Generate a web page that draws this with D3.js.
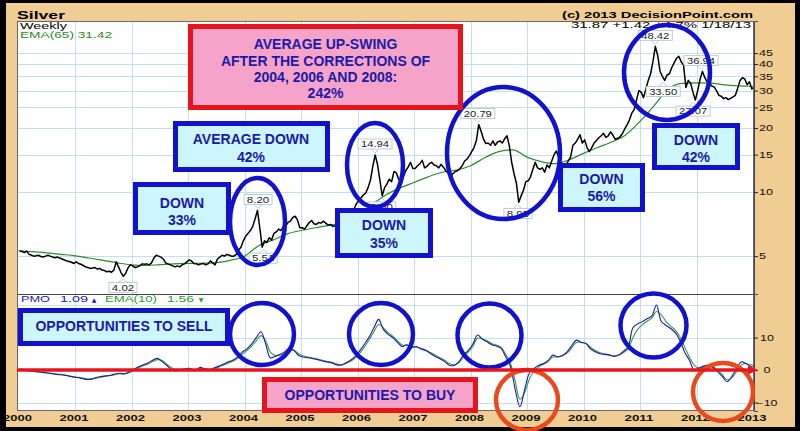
<!DOCTYPE html>
<html><head><meta charset="utf-8">
<script src="https://cdn.jsdelivr.net/npm/d3@7"></script>
<style>body{margin:0;background:#000}svg{display:block}</style>
</head><body>
<svg id="c" width="800" height="431"></svg>
<script>
// ---------- DATA ----------
const yearTicks = [2000,2001,2002,2003,2004,2005,2006,2007,2008,2009,2010,2011,2012,2013];
const priceTicks = [5,10,15,20,25,30,35,40,45];
const pmoTicks = [10,0,-10];
// semi-monthly silver closes, 24 per year
const p2000 = [5.30,5.25,5.20,5.28,5.10,5.05,5.00,5.02,5.05,4.98,4.95,5.00,5.05,5.00,4.95,4.92,4.95,4.90,4.85,4.80,4.75,4.72,4.68,4.62];
const p2001 = [4.70,4.62,4.58,4.52,4.45,4.42,4.38,4.40,4.42,4.35,4.38,4.30,4.28,4.22,4.25,4.20,4.30,4.70,4.45,4.20,4.02,4.15,4.40,4.55];
const p2002 = [4.50,4.42,4.45,4.50,4.60,4.58,4.60,4.55,4.65,4.90,5.05,5.00,4.95,4.85,4.65,4.60,4.55,4.50,4.45,4.50,4.45,4.55,4.60,4.70];
const p2003 = [4.80,4.75,4.62,4.60,4.55,4.60,4.62,4.55,4.60,4.75,4.65,4.55,4.85,4.95,5.05,5.00,5.10,5.05,5.00,5.00,5.10,5.35,5.50,5.90];
const p2004 = [6.20,6.40,6.60,6.90,7.50,8.20,6.80,5.51,5.90,5.80,6.10,5.95,6.40,6.50,6.70,6.60,6.90,6.95,7.20,7.30,7.60,7.70,7.40,6.80];
const p2005 = [6.80,6.70,6.95,7.20,7.35,7.10,7.05,7.20,7.15,7.30,7.15,7.00,7.05,6.90,6.95,7.10,7.00,7.15,7.40,7.60,7.80,7.90,8.30,8.80];
const p2006 = [9.10,9.40,9.70,9.90,10.50,11.40,13.20,14.94,13.50,11.40,9.60,10.50,10.90,11.50,11.20,12.50,12.30,11.50,11.00,11.80,12.60,13.10,13.80,12.90];
const p2007 = [12.90,13.30,13.60,14.10,13.00,13.20,13.60,13.80,13.40,13.30,13.00,13.50,13.10,12.60,12.30,11.70,12.20,12.50,12.60,12.90,13.30,14.00,14.30,14.80];
const p2008 = [15.50,16.20,17.50,20.79,19.30,17.80,16.90,17.00,16.60,17.40,16.60,17.20,17.40,17.00,17.80,18.40,16.50,13.80,12.20,11.00,8.95,9.60,10.20,11.20];
const p2009 = [11.30,11.80,12.80,13.80,13.00,12.80,13.00,12.40,13.40,13.00,14.00,15.00,15.60,14.50,13.80,13.30,13.40,14.00,14.60,16.60,17.00,17.70,18.60,17.00];
const p2010 = [17.60,16.20,15.50,16.20,17.00,17.50,18.00,18.40,18.90,18.10,18.40,19.20,18.50,17.70,17.90,18.20,18.80,19.80,20.70,21.80,23.50,24.40,27.00,30.00];
const p2011 = [29.50,27.80,30.50,33.50,36.00,41.00,48.42,44.00,37.00,35.00,33.50,35.50,36.00,38.50,40.50,42.50,43.50,41.00,39.50,31.00,33.50,32.50,29.50,27.07];
const p2012 = [30.00,33.80,36.94,34.60,33.00,32.50,31.50,31.20,30.00,28.50,28.20,27.50,27.80,27.20,27.60,28.00,28.50,30.80,33.50,34.50,34.00,32.00,33.00,30.50];
const p2013 = [31.87];
// EMA(65) quarterly readings (2000.00 .. 2012.75, then 1/18/13)
const ema65 = [5.30,5.25,5.18,5.10, 5.02,4.90,4.78,4.65, 4.55,4.52,4.56,4.60, 4.62,4.63,4.66,4.78,
  5.00,5.60,5.95,6.35, 6.60,6.80,6.98,7.15, 7.60,8.70,9.70,10.45, 11.10,11.80,12.40,12.70,
  13.30,14.50,15.50,15.80, 14.60,13.90,13.60,14.20, 15.20,16.20,17.20,18.60, 21.50,25.50,30.50,32.40,
  32.60,32.50,31.90,31.60, 31.42];
// PMO monthly readings 2000..2012 + last
const pmo = [
 0.3,0.0,-0.3,-0.5,-0.6,-0.8,-1.0,-1.2,-1.4,-1.5,-1.8,-2.1,
 -2.3,-2.6,-2.9,-2.8,-2.3,-2.0,-1.8,-1.6,-1.2,-1.0,-1.2,-0.6,
 0.2,1.0,1.6,2.2,3.0,3.6,2.6,1.4,0.2,-0.3,0.1,0.4,
 0.5,-0.3,0.8,0.4,0.0,0.6,1.2,1.8,2.5,3.0,4.0,5.5,
 6.5,8.0,10.0,11.8,8.0,3.8,4.2,4.8,5.6,6.7,6.0,4.5,
 4.0,3.8,3.5,3.2,2.8,2.5,2.2,1.6,1.5,2.2,3.0,4.2,
 6.0,8.0,10.2,13.0,15.6,12.5,11.0,10.0,8.5,7.2,7.8,7.0,
 7.2,6.5,6.0,5.1,4.2,3.5,2.6,1.5,1.4,2.5,4.6,6.0,
 8.0,10.8,9.5,8.7,7.8,7.4,6.7,4.0,1.0,-6.0,-11.3,-6.0,
 -1.0,0.5,1.5,2.0,3.0,4.6,4.0,4.5,5.6,7.5,9.2,8.5,
 8.2,6.5,5.6,5.0,4.8,4.6,4.2,4.6,5.8,7.2,13.0,14.2,
 14.9,15.8,16.6,20.0,15.0,13.8,12.8,11.5,9.0,5.5,3.0,0.0,
 0.6,1.2,1.5,0.8,-0.5,-2.0,-3.6,-2.0,0.5,2.5,2.0,1.1,
 1.09];
const pmoEma = [
 0.2,0.1,-0.2,-0.4,-0.6,-0.7,-0.9,-1.1,-1.3,-1.4,-1.7,-2.0,
 -2.2,-2.4,-2.7,-2.8,-2.5,-2.2,-1.9,-1.7,-1.4,-1.1,-1.1,-0.8,
 -0.1,0.7,1.3,1.9,2.6,3.2,2.9,1.8,0.7,0.0,0.0,0.3,
 0.4,0.0,0.5,0.5,0.2,0.4,0.9,1.5,2.1,2.7,3.6,4.8,
 6.0,7.3,9.0,10.6,9.0,5.5,4.5,4.6,5.2,6.2,6.1,5.0,
 4.3,4.0,3.7,3.4,3.0,2.7,2.4,1.9,1.6,2.0,2.7,3.7,
 5.2,7.2,9.3,11.8,14.0,13.0,11.5,10.4,9.0,7.7,7.6,7.2,
 7.1,6.7,6.2,5.4,4.6,3.8,3.0,2.0,1.6,2.2,4.0,5.5,
 7.3,9.8,9.6,9.0,8.2,7.7,7.0,4.8,2.0,-3.5,-9.0,-7.0,
 -2.8,-0.3,1.0,1.8,2.6,4.0,4.1,4.4,5.2,6.8,8.5,8.5,
 8.2,7.0,6.0,5.3,5.0,4.7,4.4,4.6,5.4,6.5,10.0,12.5,
 14.0,15.0,16.0,18.0,17.0,15.0,13.5,12.3,10.2,7.0,4.0,1.5,
 0.6,0.9,1.3,1.0,0.0,-1.5,-3.0,-2.4,-0.5,1.5,2.0,1.6,
 1.56];
// labelled turning points
const markValues = [4.02, 8.20, 5.51, 14.94, 9.60, 20.79, 8.95, 48.42, 33.50, 36.94, 27.07];
const markDates  = [2001.85, 2004.24, 2004.33, 2006.31, 2006.43, 2008.13, 2008.84, 2011.27, 2011.41, 2012.08, 2011.94];
const markAbove  = [false, true, false, true, false, true, false, true, false, true, false];

// ---------- BUILD SERIES ----------
const priceYears = [p2000,p2001,p2002,p2003,p2004,p2005,p2006,p2007,p2008,p2009,p2010,p2011,p2012];
const price = [];
priceYears.forEach((arr, yi) => arr.forEach((v, i) => price.push({d: 2000 + yi + (i + 0.5) / 24, v})));
price.push({d: 2013.05, v: p2013[0]});
const emaSeries = ema65.map((v, i) => ({d: i < 52 ? 2000 + i * 0.25 : 2013.05, v}));
const monthly = arr => arr.map((v, i) => ({d: i < 156 ? 2000 + (i + 0.5) / 12 : 2013.05, v}));
const pmoSeries = monthly(pmo), pmoEmaSeries = monthly(pmoEma);

// ---------- LAYOUT ----------
const L = 17, R = 754, T1 = 21, B1 = 294, B2 = 411;
const svg = d3.select('#c');
const FF = '"Liberation Sans", Arial, Helvetica, sans-serif';
function txt(g, x, y, s, o) {
  const t = g.append('text').attr('x', x).attr('y', y).text(s)
    .attr('font-family', o.ff || FF).attr('font-size', o.size)
    .attr('font-weight', o.bold ? 'bold' : 'normal').attr('fill', o.fill || '#000')
    .attr('text-anchor', o.anchor || 'start');
  if (o.len) t.attr('textLength', o.len).attr('lengthAdjust', 'spacingAndGlyphs');
  return t;
}

svg.append('rect').attr('width', 800).attr('height', 431).attr('fill', '#000');
svg.append('rect').attr('x', 6).attr('y', 3).attr('width', 789).attr('height', 424).attr('fill', '#efcd93');
svg.append('rect').attr('x', L).attr('y', T1).attr('width', R - L).attr('height', B2 - T1).attr('fill', '#fff');

const x = d3.scaleLinear().domain([2000, 2013]).range([18.5, 753]);
const y = d3.scaleLog().domain([3.32, 63.7]).range([B1, T1]);
const yp = d3.scaleLinear().domain([-12.6, 23.4]).range([B2, B1]);

const grid = svg.append('g').attr('stroke', '#c2e0ef').attr('stroke-width', 1);
yearTicks.slice(1, -1).forEach(yr => grid.append('line').attr('x1', Math.round(x(yr)) + 0.5).attr('x2', Math.round(x(yr)) + 0.5).attr('y1', T1).attr('y2', B2));
priceTicks.forEach(v => grid.append('line').attr('x1', L).attr('x2', R).attr('y1', Math.round(y(v)) + 0.5).attr('y2', Math.round(y(v)) + 0.5));
[20, 10, 0, -10].forEach(v => grid.append('line').attr('x1', L).attr('x2', R).attr('y1', Math.round(yp(v)) + 0.5).attr('y2', Math.round(yp(v)) + 0.5));

// clip paths
svg.append('clipPath').attr('id', 'c1').append('rect').attr('x', L).attr('y', T1).attr('width', R - L).attr('height', B1 - T1);
svg.append('clipPath').attr('id', 'c2').append('rect').attr('x', L).attr('y', B1).attr('width', R - L).attr('height', B2 - B1);

// price panel
const lp = d3.line().x(d => x(d.d)).y(d => y(d.v));
const g1 = svg.append('g').attr('clip-path', 'url(#c1)');
g1.append('path').datum(emaSeries).attr('d', lp.curve(d3.curveMonotoneX)).attr('fill', 'none').attr('stroke', '#2f8a2f').attr('stroke-width', 1.2);
g1.append('path').datum(price).attr('d', d3.line().x(d => x(d.d)).y(d => y(d.v))).attr('fill', 'none').attr('stroke', '#000').attr('stroke-width', 1.5).attr('stroke-linejoin', 'round');

// pmo panel
const lq = d3.line().x(d => x(d.d)).y(d => yp(d.v)).curve(d3.curveCatmullRom);
const g2 = svg.append('g').attr('clip-path', 'url(#c2)');
g2.append('path').datum(pmoEmaSeries).attr('d', lq).attr('fill', 'none').attr('stroke', '#3c9c3c').attr('stroke-width', 1.1);
g2.append('path').datum(pmoSeries).attr('d', lq).attr('fill', 'none').attr('stroke', '#1c1caa').attr('stroke-width', 1.1);

// frames
svg.append('rect').attr('x', L + 0.5).attr('y', T1 + 0.5).attr('width', R - L - 1).attr('height', B2 - T1 - 1).attr('fill', 'none').attr('stroke', '#667').attr('stroke-width', 1);
svg.append('line').attr('x1', L).attr('x2', R).attr('y1', B1 + 0.5).attr('y2', B1 + 0.5).attr('stroke', '#445').attr('stroke-width', 1.2);

// right axes
const ax1 = svg.append('g').attr('transform', `translate(${R},0)`).call(d3.axisRight(y).tickValues(priceTicks).tickSize(4).tickFormat(d3.format('d')));
const ax2 = svg.append('g').attr('transform', `translate(${R},0)`).call(d3.axisRight(yp).tickValues(pmoTicks).tickSize(4).tickFormat(d3.format('d')));
[ax1, ax2].forEach(a => {
  a.select('.domain').attr('stroke', '#445');
  a.selectAll('.tick line').attr('stroke', '#222');
  a.selectAll('.tick text').attr('font-family', FF).attr('font-size', 8.5).attr('fill', '#111').attr('x', 5)
    .attr('textLength', function () { return this.textContent.length * 7; }).attr('lengthAdjust', 'spacingAndGlyphs');
});
ax2.selectAll('.tick text').attr('text-anchor', 'middle').attr('x', 13);

// x axis
const ax3 = svg.append('g').attr('transform', `translate(-1.5,${B2})`).call(d3.axisBottom(x).tickValues(yearTicks).tickSize(0).tickFormat(d3.format('d')));
ax3.select('.domain').remove();
ax3.selectAll('.tick text').attr('font-family', FF).attr('font-size', 8.5).attr('font-weight', 'bold').attr('fill', '#111')
  .attr('y', 4).attr('textLength', 29).attr('lengthAdjust', 'spacingAndGlyphs');

// headers
txt(svg, 17, 18.5, 'Silver', {size: 11.5, bold: true, len: 48});
txt(svg, 753, 18.3, '(c) 2013 DecisionPoint.com', {size: 9, bold: true, anchor: 'end', len: 191});
txt(svg, 20, 28.5, 'Weekly', {size: 8.5, len: 47});
txt(svg, 20, 37.5, 'EMA(65) 31.42', {size: 8.5, fill: '#2f8a2f', len: 92});
txt(svg, 751, 28.3, '31.87  +1.42  +4.7%  1/18/13', {size: 8.5, anchor: 'end', len: 180});
txt(svg, 21, 302, 'PMO', {size: 8.5, fill: '#1c1caa', len: 29});
txt(svg, 60, 302, '1.09', {size: 8.5, fill: '#1c1caa', len: 28});
txt(svg, 94, 302, '\u25B2', {size: 6, fill: '#1c1caa', anchor: 'middle', ff: 'DejaVu Sans'});
txt(svg, 105, 302, 'EMA(10)', {size: 8.5, fill: '#2f9a2f', len: 52});
txt(svg, 167, 302, '1.56', {size: 8.5, fill: '#2f9a2f', len: 27});
txt(svg, 201, 302, '\u25BC', {size: 6, fill: '#2f9a2f', anchor: 'middle', ff: 'DejaVu Sans'});

// turning-point labels
const gm = svg.append('g');
markValues.forEach((v, i) => {
  const px = x(markDates[i]), py = y(v);
  const s = v.toFixed(2), w = s.length * 6 + 4, h = 10;
  const cy = markAbove[i] ? py - 11 : py + 11;
  const edge = markAbove[i] ? cy + h / 2 : cy - h / 2;
  gm.append('path').attr('d', `M${px - 4},${edge}L${px},${py + (markAbove[i] ? -2 : 2)}L${px + 4},${edge}`)
    .attr('fill', 'none').attr('stroke', '#a9c2cf').attr('stroke-width', 0.8);
  gm.append('rect').attr('x', px - w / 2).attr('y', cy - h / 2).attr('width', w).attr('height', h)
    .attr('fill', '#fff').attr('stroke', '#a9c2cf').attr('stroke-width', 0.8);
  txt(gm, px, cy + 3.3, s, {size: 8.5, anchor: 'middle', fill: '#222', len: s.length * 5.6});
});

// ---------- ANNOTATIONS ----------
const BLUE = '#1212cc', NAVY = '#1a1aa6', CYAN = '#cdf6fc', PINK = '#f6a3c9', RED = '#e8141c', ORANGE = '#e84a1e';
const ga = svg.append('g');
function box(x0, y0, w, h, fill, stroke, lines, cx, cys) {
  ga.append('rect').attr('x', x0).attr('y', y0).attr('width', w).attr('height', h)
    .attr('fill', fill).attr('stroke', stroke).attr('stroke-width', 5);
  lines.forEach((s, i) => txt(ga, cx, cys[i] + 5, s, {size: 14, bold: true, fill: NAVY, anchor: 'middle'}));
}
function ell(cx, cy, rx, ry, color) {
  ga.append('ellipse').attr('cx', cx).attr('cy', cy).attr('rx', rx).attr('ry', ry)
    .attr('fill', 'none').attr('stroke', color).attr('stroke-width', 4.5);
}
ell(257.5, 221.5, 27.5, 43.5, BLUE);
ell(375, 165, 28, 42, BLUE);
ell(503.5, 153, 56.5, 66, BLUE);
ell(667, 72.5, 43, 47.5, BLUE);
ell(262, 334, 32, 31, BLUE);
ell(381, 334, 32, 31, BLUE);
ell(489.5, 335.5, 32, 32, BLUE);
ell(653.5, 325.5, 33, 32, BLUE);
ell(527, 400, 31, 30, ORANGE);
ell(723, 392, 30, 29, ORANGE);

// zero line with arrow
ga.append('line').attr('x1', L).attr('x2', 750).attr('y1', yp(0)).attr('y2', yp(0)).attr('stroke', RED).attr('stroke-width', 3.5);
ga.append('path').attr('d', `M748,${yp(0) - 4.5}L758,${yp(0)}L748,${yp(0) + 4.5}Z`).attr('fill', RED);

box(190.5, 26.5, 270, 81, PINK, RED, ['AVERAGE UP-SWING', 'AFTER THE CORRECTIONS OF', '2004, 2006 AND 2008:', '242%'], 325.5, [44, 61, 77, 93]);
box(175.5, 123.5, 152, 46, CYAN, BLUE, ['AVERAGE DOWN', '42%'], 251, [139, 157]);
box(135.5, 184.5, 93, 48, CYAN, BLUE, ['DOWN', '33%'], 182, [203, 220]);
box(337.5, 210.5, 93, 45, CYAN, BLUE, ['DOWN', '35%'], 384, [225, 243]);
box(560.5, 165.5, 82, 44, CYAN, BLUE, ['DOWN', '56%'], 601.5, [179, 196]);
box(654.5, 125.5, 83, 42, CYAN, BLUE, ['DOWN', '42%'], 696, [140, 157]);
box(20.5, 310.5, 207, 33, CYAN, BLUE, ['OPPORTUNITIES TO SELL'], 124, [326]);
box(264.5, 379.5, 211, 31, PINK, RED, ['OPPORTUNITIES TO BUY'], 370, [395]);
</script>
</body></html>
